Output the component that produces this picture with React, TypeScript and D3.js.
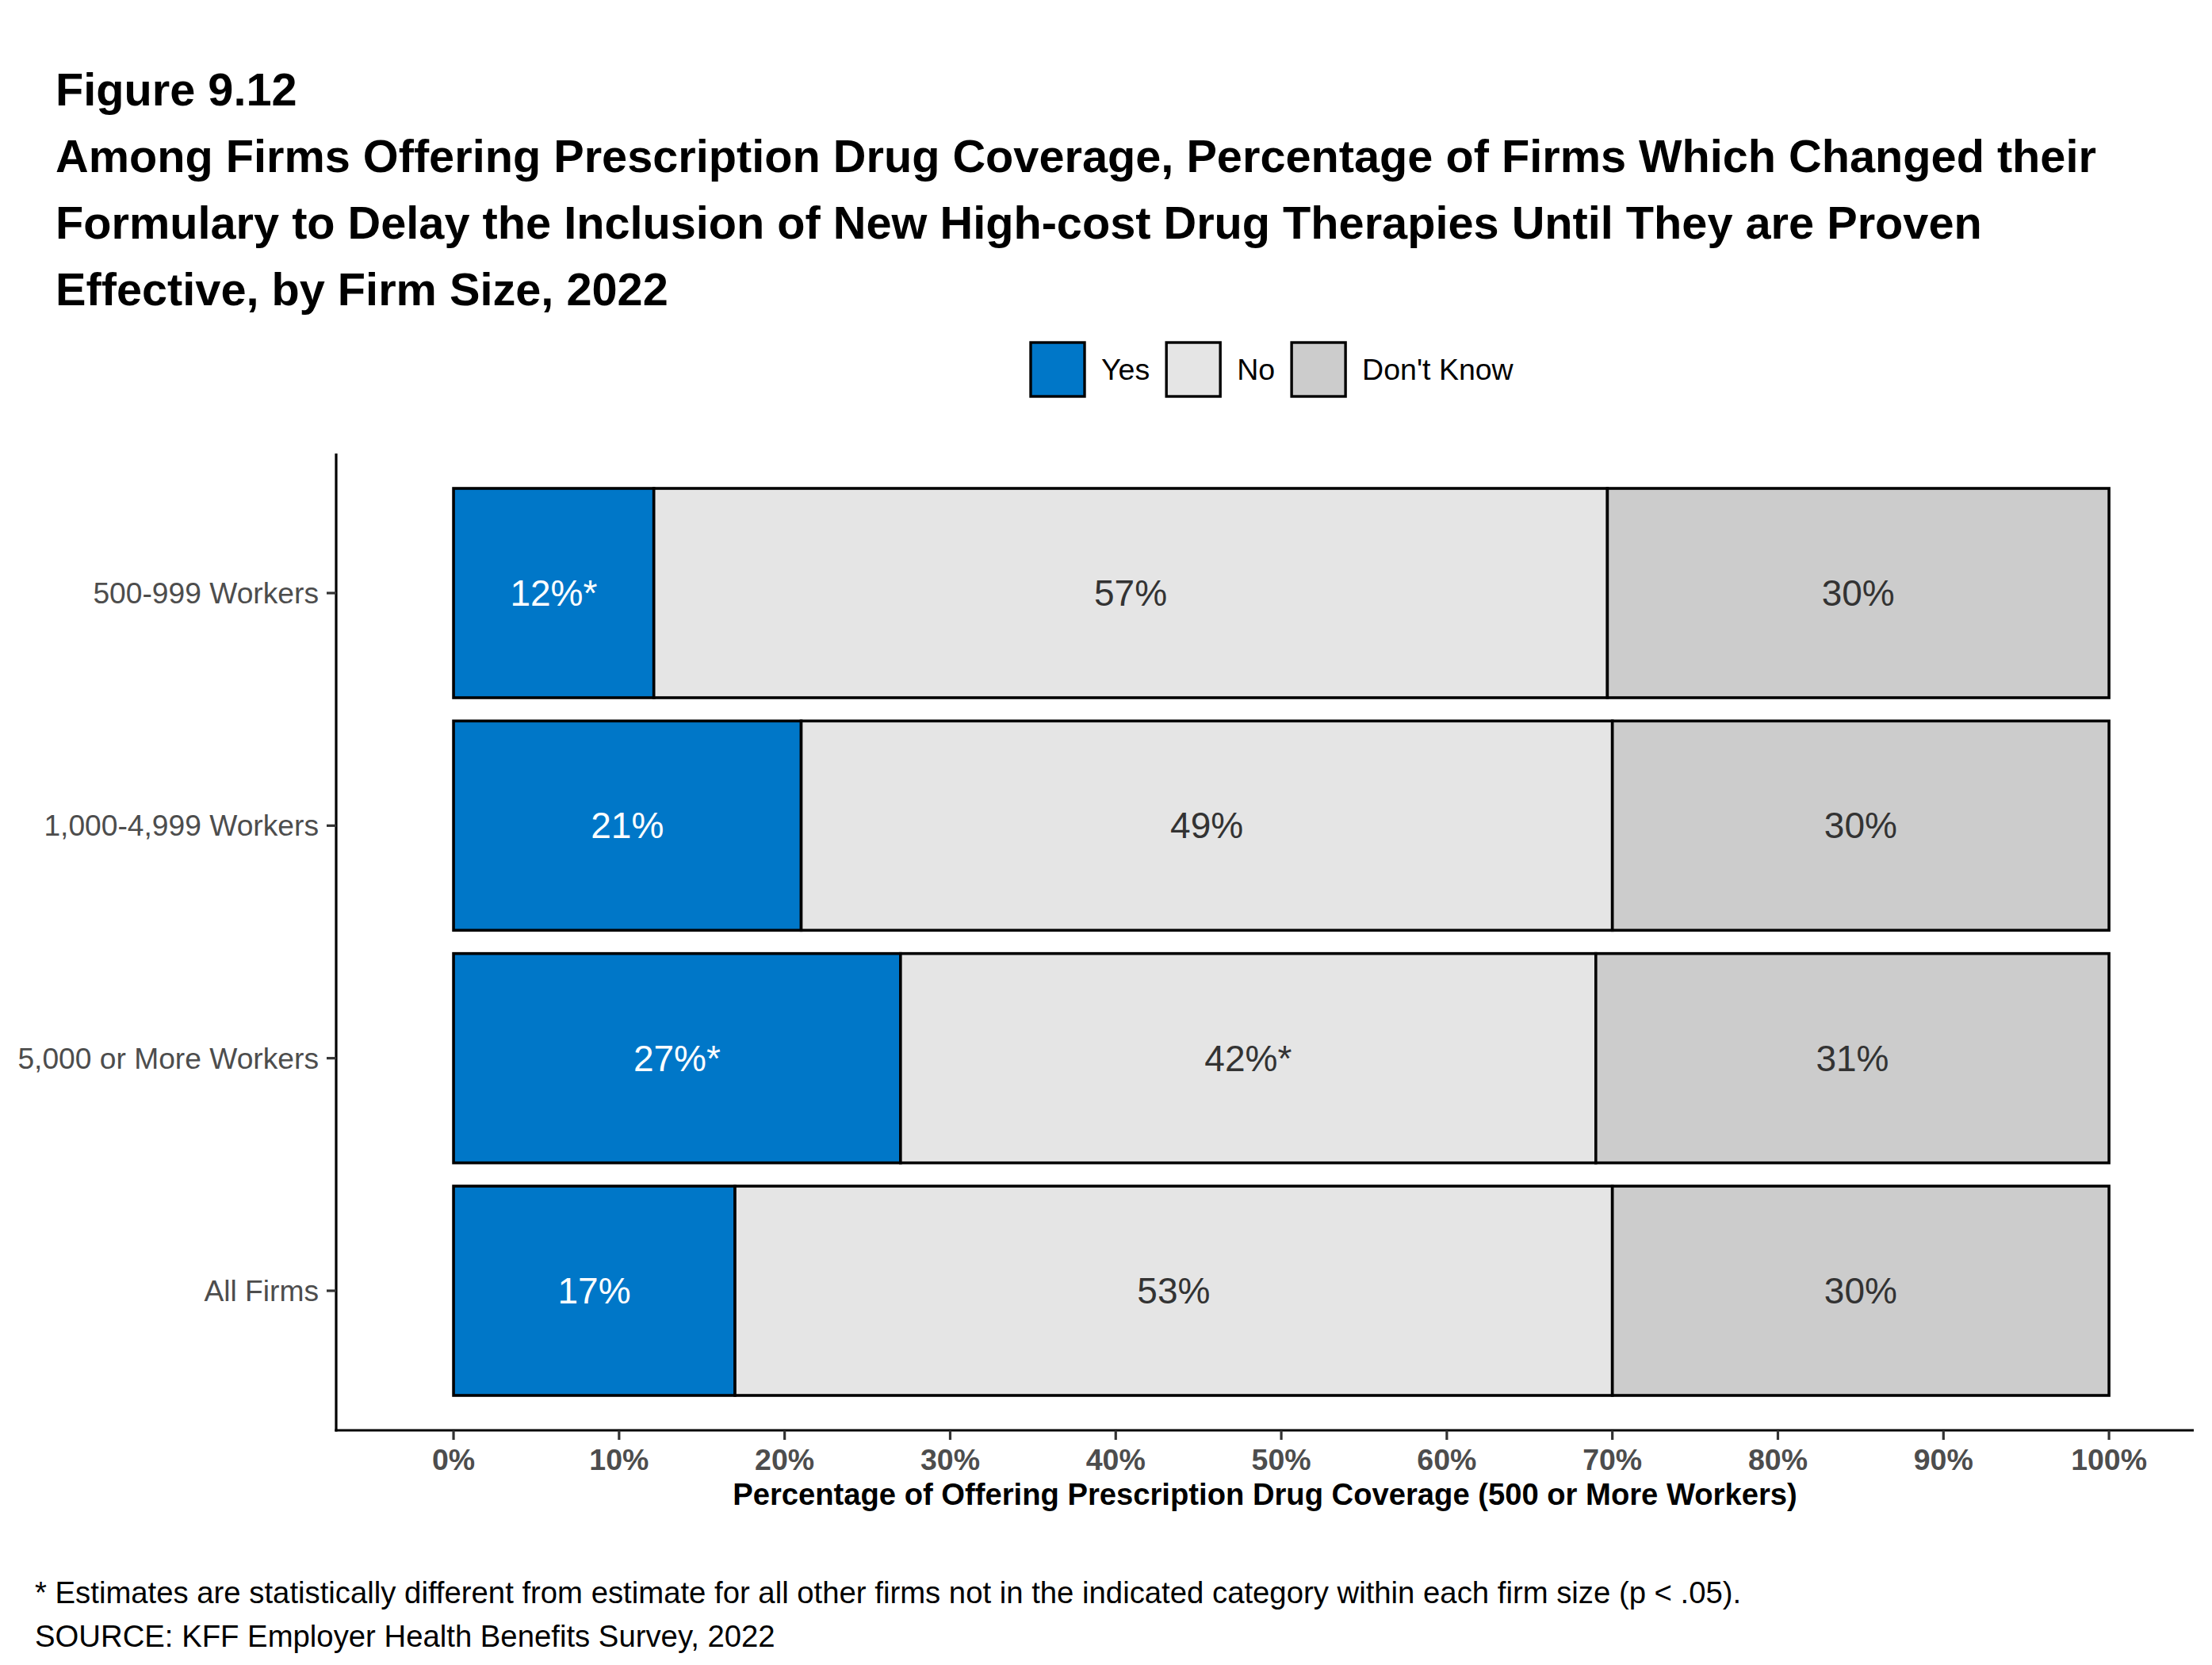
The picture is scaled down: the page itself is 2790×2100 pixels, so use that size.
import React from "react";
import * as d3 from "d3";

const categories = ["500-999 Workers", "1,000-4,999 Workers", "5,000 or More Workers", "All Firms"];
const yesValues = [12.1, 21, 27, 17];
const noValues = [57.6, 49, 42, 53];
const dkValues = [30.3, 30, 31, 30];
const yesLabels = ["12%*", "21%", "27%*", "17%"];
const noLabels = ["57%", "49%", "42%*", "53%"];
const dkLabels = ["30%", "30%", "31%", "30%"];
const seriesNames = ["Yes", "No", "Don't Know"];
const xTicks = [0, 10, 20, 30, 40, 50, 60, 70, 80, 90, 100];
const titleLines = [
  "Figure 9.12",
  "Among Firms Offering Prescription Drug Coverage, Percentage of Firms Which Changed their",
  "Formulary to Delay the Inclusion of New High-cost Drug Therapies Until They are Proven",
  "Effective, by Firm Size, 2022",
];
const xTitle = "Percentage of Offering Prescription Drug Coverage (500 or More Workers)";
const footnotes = [
  "* Estimates are statistically different from estimate for all other firms not in the indicated category within each firm size (p < .05).",
  "SOURCE: KFF Employer Health Benefits Survey, 2022",
];

const W = 2790;
const H = 2100;
const FONT = "'Liberation Sans', Arial, Helvetica, sans-serif";
const colors = ["#0077C8", "#E5E5E5", "#CCCCCC"];
const textColors = ["#FFFFFF", "#333333", "#333333"];

const panel = { left: 424, right: 2767, top: 572, bottom: 1804 };

function measure(text: string, font: string): number {
  const c = document.createElement("canvas");
  const ctx = c.getContext("2d");
  if (!ctx) return text.length * 20;
  ctx.font = font;
  return ctx.measureText(text).width;
}

export default function App() {
  const x = d3.scaleLinear().domain([-7.09, 105.12]).range([panel.left, panel.right]);
  const y = d3
    .scaleBand<string>()
    .domain(categories)
    .range([panel.top, panel.bottom])
    .paddingInner(0.1)
    .paddingOuter(0.15);

  const rows = categories.map((c, i) => {
    const vals = [yesValues[i], noValues[i], dkValues[i]];
    const labs = [yesLabels[i], noLabels[i], dkLabels[i]];
    let acc = 0;
    const segs = vals.map((v, k) => {
      const s = { x0: acc, x1: acc + v, label: labs[k], k };
      acc += v;
      return s;
    });
    return { c, segs };
  });

  // legend layout
  const legFont = `37.5px ${FONT}`;
  const box = 68;
  const gap = 21;
  let lx = 1300;
  const legendItems = seriesNames.map((name, k) => {
    const bx = lx;
    const tx = bx + box + gap;
    const tw = measure(name, legFont);
    lx = tx + tw + gap;
    return { name, bx, tx, k };
  });

  return (
    <svg
      width={W}
      height={H}
      viewBox={`0 0 ${W} ${H}`}
      style={{ position: "absolute", left: 0, top: 0, background: "#fff" }}
      fontFamily={FONT}
    >
      <rect x={0} y={0} width={W} height={H} fill="#fff" />
      {/* Title */}
      {titleLines.map((t, i) => (
        <text key={i} x={70} y={133 + i * 84} fontSize={57.7} fontWeight="bold" fill="#000">
          {t}
        </text>
      ))}

      {/* Legend */}
      {legendItems.map((it) => (
        <g key={it.name}>
          <rect
            x={it.bx}
            y={432}
            width={box}
            height={box}
            fill={colors[it.k]}
            stroke="#000"
            strokeWidth={3.4}
          />
          <text x={it.tx} y={466} dy="0.35em" fontSize={37.5} fill="#000">
            {it.name}
          </text>
        </g>
      ))}

      {/* Bars */}
      {rows.map((r) => (
        <g key={r.c}>
          {r.segs.map((s) => (
            <rect
              key={s.k}
              x={x(s.x0)}
              y={y(r.c)!}
              width={x(s.x1) - x(s.x0)}
              height={y.bandwidth()}
              fill={colors[s.k]}
              stroke="#000"
              strokeWidth={3.6}
            />
          ))}
          {r.segs.map((s) => (
            <text
              key={"t" + s.k}
              x={(x(s.x0) + x(s.x1)) / 2}
              y={y(r.c)! + y.bandwidth() / 2}
              dy="0.35em"
              textAnchor="middle"
              fontSize={46}
              fill={textColors[s.k]}
            >
              {s.label}
            </text>
          ))}
        </g>
      ))}

      {/* Axes */}
      <line x1={panel.left} x2={panel.left} y1={panel.top} y2={panel.bottom + 1.6} stroke="#000" strokeWidth={3.2} />
      <line x1={panel.left - 1.6} x2={panel.right} y1={panel.bottom} y2={panel.bottom} stroke="#000" strokeWidth={3.2} />

      {categories.map((c) => {
        const cy = y(c)! + y.bandwidth() / 2;
        return (
          <g key={c}>
            <line x1={panel.left - 12} x2={panel.left} y1={cy} y2={cy} stroke="#333333" strokeWidth={3.2} />
            <text x={402} y={cy} dy="0.35em" textAnchor="end" fontSize={37.2} fill="#4D4D4D">
              {c}
            </text>
          </g>
        );
      })}

      {xTicks.map((t) => (
        <g key={t}>
          <line x1={x(t)} x2={x(t)} y1={panel.bottom} y2={panel.bottom + 12} stroke="#333333" strokeWidth={3.2} />
          <text x={x(t)} y={1854} textAnchor="middle" fontSize={37.5} fontWeight="bold" fill="#4D4D4D">
            {t}%
          </text>
        </g>
      ))}

      <text
        x={(panel.left + panel.right) / 2}
        y={1898}
        textAnchor="middle"
        fontSize={38.2}
        fontWeight="bold"
        fill="#000"
      >
        {xTitle}
      </text>

      {/* Footnotes */}
      {footnotes.map((f, i) => (
        <text key={i} x={44} y={2022 + i * 55} fontSize={38.3} fill="#000">
          {f}
        </text>
      ))}
    </svg>
  );
}
